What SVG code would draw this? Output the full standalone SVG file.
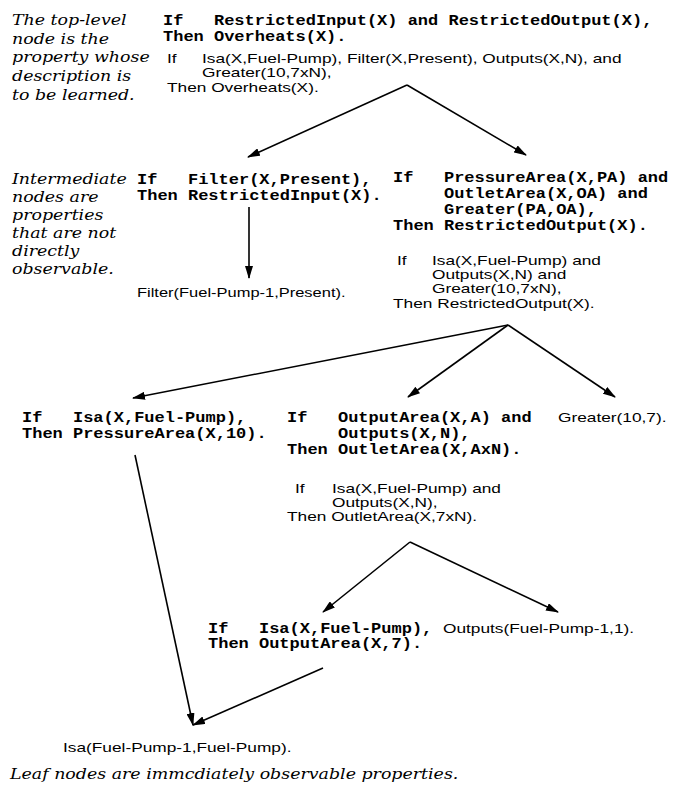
<svg xmlns="http://www.w3.org/2000/svg" width="675" height="786" viewBox="0 0 675 786">
<defs>
<marker id="ah" viewBox="0 0 13 8" refX="12" refY="4" markerWidth="13" markerHeight="8" markerUnits="userSpaceOnUse" orient="auto">
<path d="M0,0 L13,4 L0,8 z" fill="#000"/>
</marker>
<style>
.m{font-family:"Liberation Mono","Courier New",monospace;font-weight:bold;font-size:14px;fill:#000}
.s{font-family:"Liberation Sans",Arial,sans-serif;font-size:13.5px;fill:#000}
.i{font-family:"DejaVu Serif","Liberation Serif",serif;font-style:italic;font-size:14.5px;fill:#000}
.c line{stroke:#000;stroke-width:1.6;marker-end:url(#ah)}
</style>
</defs>
<rect width="675" height="786" fill="#fff"/>
<g id="note-top">
<text class="i" transform="translate(12 25) scale(1.2 1)">The top-level</text>
<text class="i" transform="translate(12 44) scale(1.2 1)">node is the</text>
<text class="i" transform="translate(12 62) scale(1.2 1)">property whose</text>
<text class="i" transform="translate(12 81) scale(1.2 1)">description is</text>
<text class="i" transform="translate(12 100) scale(1.2 1)">to be learned.</text>
</g>
<g id="note-intermediate">
<text class="i" transform="translate(12 184) scale(1.2 1)">Intermediate</text>
<text class="i" transform="translate(12 202) scale(1.2 1)">nodes are</text>
<text class="i" transform="translate(12 220) scale(1.2 1)">properties</text>
<text class="i" transform="translate(12 238) scale(1.2 1)">that are not</text>
<text class="i" transform="translate(12 256) scale(1.2 1)">directly</text>
<text class="i" transform="translate(12 274) scale(1.2 1)">observable.</text>
</g>
<g id="note-leaf">
<text class="i" transform="translate(10 779) scale(1.2 1)">Leaf nodes are immcdiately observable properties.</text>
</g>
<g id="node-overheats">
<text class="m" transform="translate(163 25) scale(1.214 1)"><tspan x="0">If</tspan><tspan x="42">RestrictedInput(X) and RestrictedOutput(X),</tspan></text>
<text class="m" transform="translate(163 41) scale(1.214 1)">Then Overheats(X).</text>
<text class="s" transform="translate(167 63) scale(1.28 1)">If</text>
<text class="s" transform="translate(202 63) scale(1.28 1)">Isa(X,Fuel-Pump), Filter(X,Present), Outputs(X,N), and</text>
<text class="s" transform="translate(202 77) scale(1.28 1)">Greater(10,7xN),</text>
<text class="s" transform="translate(167 92) scale(1.28 1)">Then Overheats(X).</text>
</g>
<g id="node-restricted-input">
<text class="m" transform="translate(137 184) scale(1.214 1)"><tspan x="0">If</tspan><tspan x="42">Filter(X,Present),</tspan></text>
<text class="m" transform="translate(137 200) scale(1.214 1)">Then RestrictedInput(X).</text>
</g>
<g id="leaf-filter">
<text class="s" transform="translate(137 297) scale(1.22 1)">Filter(Fuel-Pump-1,Present).</text>
</g>
<g id="node-restricted-output">
<text class="m" transform="translate(393 182) scale(1.214 1)"><tspan x="0">If</tspan><tspan x="42">PressureArea(X,PA) and</tspan></text>
<text class="m" transform="translate(444 198) scale(1.214 1)">OutletArea(X,OA) and</text>
<text class="m" transform="translate(444 214) scale(1.214 1)">Greater(PA,OA),</text>
<text class="m" transform="translate(393 230) scale(1.214 1)">Then RestrictedOutput(X).</text>
<text class="s" transform="translate(397 265) scale(1.28 1)">If</text>
<text class="s" transform="translate(432 265) scale(1.28 1)">Isa(X,Fuel-Pump) and</text>
<text class="s" transform="translate(432 279) scale(1.28 1)">Outputs(X,N) and</text>
<text class="s" transform="translate(432 293) scale(1.28 1)">Greater(10,7xN),</text>
<text class="s" transform="translate(393 308) scale(1.28 1)">Then RestrictedOutput(X).</text>
</g>
<g id="node-pressure-area">
<text class="m" transform="translate(22 422) scale(1.214 1)"><tspan x="0">If</tspan><tspan x="42">Isa(X,Fuel-Pump),</tspan></text>
<text class="m" transform="translate(22 438) scale(1.214 1)">Then PressureArea(X,10).</text>
</g>
<g id="node-outlet-area">
<text class="m" transform="translate(287 422) scale(1.214 1)"><tspan x="0">If</tspan><tspan x="42">OutputArea(X,A) and</tspan></text>
<text class="m" transform="translate(338 438) scale(1.214 1)">Outputs(X,N),</text>
<text class="m" transform="translate(287 454) scale(1.214 1)">Then OutletArea(X,AxN).</text>
<text class="s" transform="translate(295 493) scale(1.28 1)">If</text>
<text class="s" transform="translate(332 493) scale(1.28 1)">Isa(X,Fuel-Pump) and</text>
<text class="s" transform="translate(332 507) scale(1.28 1)">Outputs(X,N),</text>
<text class="s" transform="translate(287 521) scale(1.28 1)">Then OutletArea(X,7xN).</text>
</g>
<g id="leaf-greater">
<text class="s" transform="translate(558 422) scale(1.28 1)">Greater(10,7).</text>
</g>
<g id="node-output-area">
<text class="m" transform="translate(208 633) scale(1.214 1)"><tspan x="0">If</tspan><tspan x="42">Isa(X,Fuel-Pump),</tspan></text>
<text class="m" transform="translate(208 648) scale(1.214 1)">Then OutputArea(X,7).</text>
</g>
<g id="leaf-outputs">
<text class="s" transform="translate(443 633) scale(1.28 1)">Outputs(Fuel-Pump-1,1).</text>
</g>
<g id="leaf-isa">
<text class="s" transform="translate(63 752) scale(1.28 1)">Isa(Fuel-Pump-1,Fuel-Pump).</text>
</g>
<g id="connectors" class="c">
<line x1="407" y1="85" x2="248" y2="157"/>
<line x1="407" y1="85" x2="526" y2="155"/>
<line x1="249" y1="207" x2="249" y2="278"/>
<line x1="508" y1="325" x2="133" y2="398"/>
<line x1="508" y1="325" x2="408" y2="397"/>
<line x1="508" y1="325" x2="615" y2="397"/>
<line x1="410" y1="542" x2="323" y2="612"/>
<line x1="410" y1="542" x2="558" y2="612"/>
<line x1="135" y1="455" x2="193" y2="725"/>
<line x1="323" y1="668" x2="193" y2="725"/>
</g>
</svg>
